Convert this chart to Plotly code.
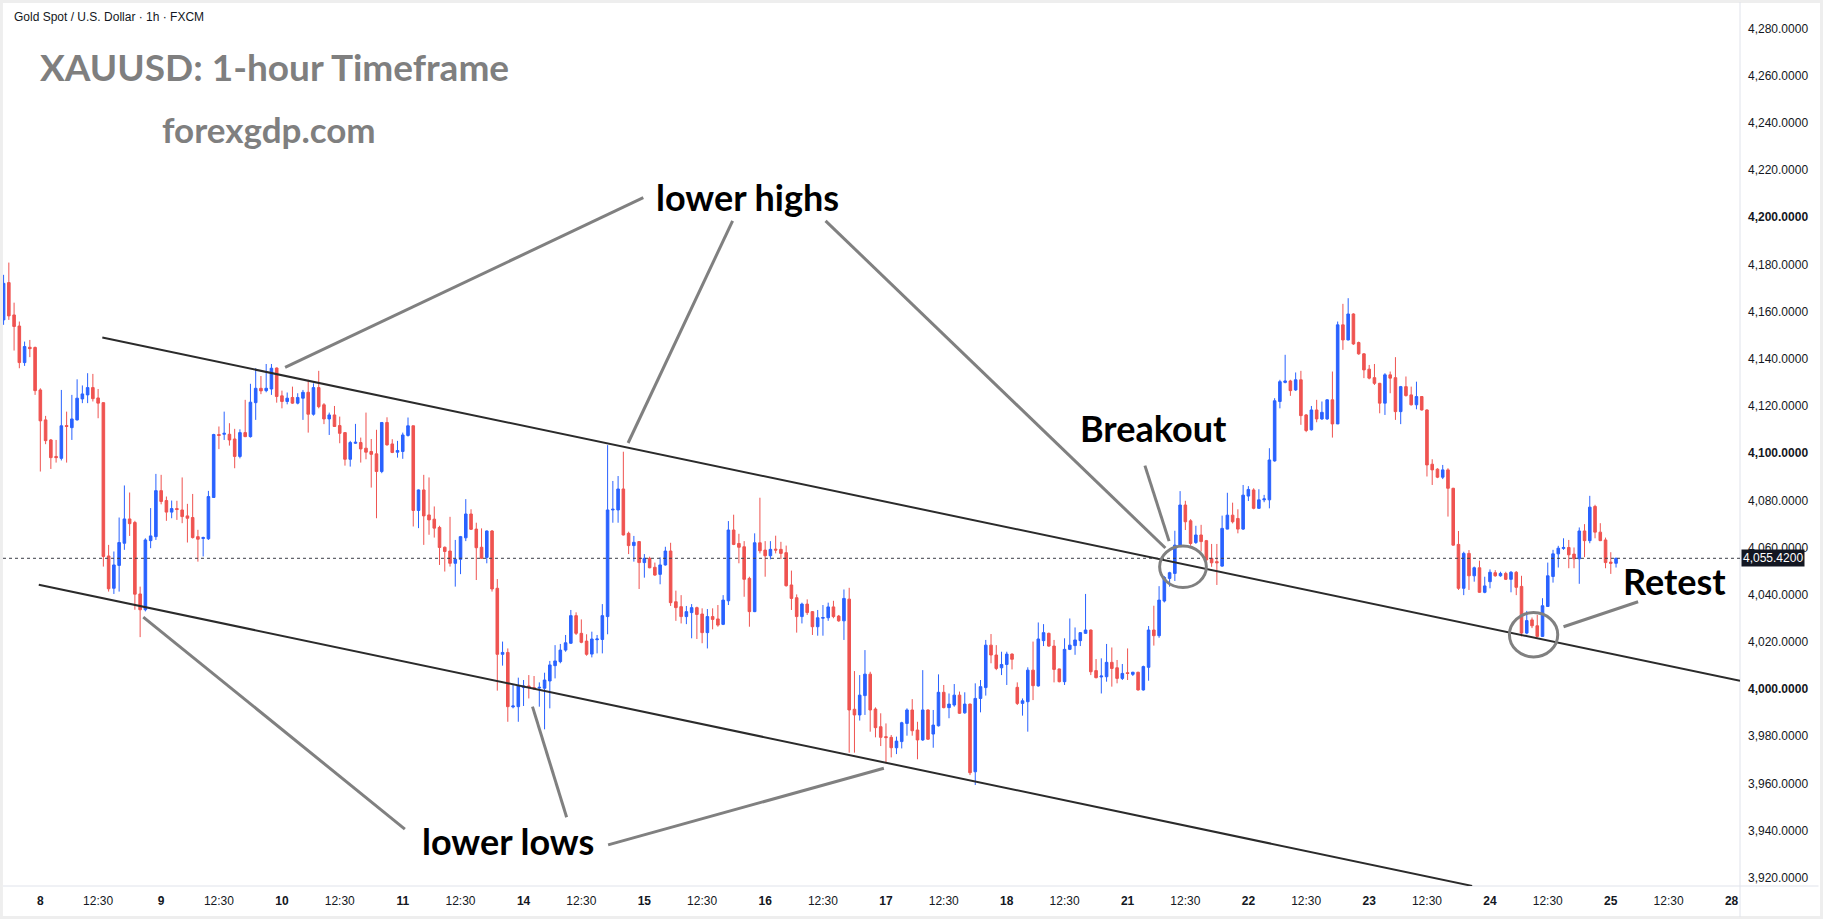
import plotly.graph_objects as go

# ---------------- DATA ----------------
opens = [4156.5,4172.3,4158.6,4153.9,4138.4,4144.9,4144.8,4126.8,4114.1,4105.6,4098.6,4097.8,4111.7,4110.8,4114.1,4123.0,4124.7,4127.8,4123.4,4121.4,
4056.4,4042.7,4052.4,4061.8,4072.1,4070.6,4040.3,4033.6,4062.9,4064.6,4084.1,4079.9,4075.0,4076.5,4075.9,4073.4,4072.7,4064.6,4063.8,4063.7,
4081.2,4107.9,4108.0,4108.0,4106.0,4098.6,4108.7,4107.0,4121.4,4127.5,4126.5,4127.2,4136.1,4124.3,4121.9,4123.6,4121.2,4123.3,4125.8,4116.5,
4127.8,4120.5,4114.5,4116.2,4111.7,4108.7,4097.4,4104.2,4104.5,4102.1,4100.7,4099.7,4092.2,4113.0,4103.9,4100.4,4100.7,4107.5,4111.6,4075.7,
4084.4,4073.8,4072.0,4068.5,4060.1,4058.5,4053.3,4055.0,4064.1,4074.2,4067.8,4060.1,4055.8,4067.0,4042.7,4014.7,4015.5,3992.4,3992.5,4000.6,
4001.3,4000.6,4000.4,4000.3,4003.4,4009.9,4011.6,4016.5,4019.4,4031.1,4023.6,4020.3,4014.8,4020.9,4021.0,4030.7,4075.9,4075.9,4084.8,4066.0,
4060.8,4062.5,4053.6,4055.4,4051.6,4048.6,4052.6,4058.5,4037.0,4034.9,4030.7,4032.4,4034.5,4031.8,4023.9,4030.7,4029.7,4027.4,4037.4,4067.4,
4061.7,4060.3,4046.9,4032.8,4062.0,4058.9,4056.5,4059.3,4059.2,4057.8,4044.1,4038.7,4030.7,4036.0,4032.8,4026.4,4030.0,4030.2,4034.8,4030.9,
4028.9,4038.1,3991.4,3989.0,3997.2,4006.3,3991.5,3984.0,3979.8,3979.5,3975.1,3977.7,3985.4,3991.1,3982.6,3978.4,3991.1,3980.9,3984.4,3998.6,
3992.1,3993.2,3997.4,3989.9,3993.6,3964.9,3996.0,4000.6,4018.6,4014.4,4009.0,4010.4,4014.8,4000.7,3993.9,3994.6,4008.0,4001.3,4020.5,4023.6,
4018.2,4008.5,4003.1,4016.8,4018.4,4020.5,4023.6,4025.0,4007.8,4005.1,4005.2,4011.3,4009.0,4004.5,4006.9,4006.2,4007.1,3999.6,4009.2,4025.0,
4022.6,4037.3,4046.9,4049.0,4060.7,4078.0,4071.3,4062.1,4065.3,4062.9,4055.4,4054.0,4052.1,4067.8,4073.7,4072.3,4067.8,4081.8,4084.4,4076.6,
4080.2,4080.2,4096.7,4121.9,4130.0,4130.6,4126.8,4131.1,4116.2,4109.9,4118.3,4114.5,4114.5,4122.6,4112.4,4154.4,4148.0,4159.0,4146.9,4142.1,
4135.6,4132.0,4129.6,4121.2,4133.2,4132.0,4117.6,4128.2,4124.7,4120.5,4124.0,4118.3,4095.3,4093.2,4089.8,4092.9,4085.1,4061.3,4042.7,4057.5,
4048.0,4051.4,4041.0,4045.5,4049.3,4048.0,4049.0,4046.5,4049.5,4043.5,4023.7,4029.3,4026.8,4022.3,4035.0,4047.7,4057.3,4059.6,4060.0,4057.2,
4055.2,4067.0,4062.9,4077.4,4066.5,4063.2,4053.8,4053.3]

highs = [4175.6,4180.8,4163.8,4155.8,4147.3,4148.0,4145.2,4127.5,4115.8,4106.0,4105.6,4126.8,4117.6,4124.7,4131.3,4128.7,4133.9,4133.6,4127.2,4121.6,
4061.1,4058.3,4072.7,4086.3,4083.3,4071.3,4043.4,4063.9,4076.7,4091.2,4090.8,4081.6,4079.9,4079.8,4089.7,4078.5,4082.7,4067.5,4064.6,4084.0,
4108.2,4111.3,4117.6,4112.7,4110.3,4110.1,4122.6,4129.4,4136.0,4132.7,4137.8,4137.8,4136.3,4126.5,4125.7,4128.2,4125.4,4126.8,4131.1,4129.6,
4134.9,4121.2,4117.2,4120.0,4115.5,4108.9,4105.2,4112.4,4106.6,4117.2,4106.0,4109.9,4113.1,4115.2,4105.9,4105.2,4108.7,4115.1,4111.7,4084.6,
4090.8,4089.7,4077.4,4069.2,4060.4,4073.0,4063.2,4064.9,4080.5,4076.2,4070.5,4068.1,4067.2,4067.4,4046.6,4020.1,4017.2,4001.7,4004.8,4003.8,
4005.9,4005.5,4002.8,4006.9,4011.9,4018.6,4019.1,4022.9,4033.5,4032.5,4029.5,4023.2,4024.3,4022.9,4036.0,4103.4,4088.2,4090.3,4100.6,4066.7,
4064.9,4062.7,4057.2,4056.1,4053.6,4055.8,4060.3,4062.0,4041.7,4039.8,4035.2,4036.0,4034.9,4034.2,4033.9,4034.2,4035.6,4039.8,4071.2,4073.9,
4065.8,4062.7,4047.6,4066.0,4081.1,4062.7,4062.7,4065.0,4062.4,4060.8,4050.2,4040.1,4036.6,4038.0,4033.0,4033.5,4035.6,4036.6,4037.4,4031.4,
4042.2,4042.9,4007.6,4005.9,4016.5,4007.3,3992.2,3989.7,3985.4,3980.5,3979.8,3986.1,3991.8,3995.7,3986.1,4008.0,3991.4,3991.1,4006.2,4001.7,
3998.1,4002.1,3998.9,3998.6,3993.8,4002.4,4003.8,4020.8,4023.3,4018.6,4015.8,4015.8,4015.1,4002.8,3996.0,4009.2,4020.1,4028.2,4027.5,4023.9,
4020.8,4008.6,4021.5,4029.9,4026.1,4024.1,4040.3,4025.2,4012.7,4013.0,4019.1,4017.6,4012.3,4010.6,4017.2,4007.3,4007.3,4009.9,4026.7,4035.3,
4043.6,4047.9,4049.7,4067.1,4083.9,4079.8,4072.0,4069.2,4069.6,4063.2,4061.5,4061.5,4073.5,4083.2,4079.0,4076.2,4086.5,4086.0,4085.1,4084.7,
4082.3,4102.1,4123.3,4131.1,4141.7,4131.1,4134.2,4134.9,4116.6,4120.0,4122.6,4121.9,4122.9,4134.6,4155.8,4163.3,4165.7,4159.3,4147.3,4142.4,
4137.4,4137.8,4129.8,4133.9,4134.6,4140.7,4128.5,4132.5,4128.2,4130.3,4124.2,4118.6,4097.4,4093.6,4095.0,4093.6,4085.3,4067.0,4058.2,4058.9,
4051.9,4054.4,4047.6,4050.7,4050.4,4049.7,4049.7,4050.0,4050.0,4048.0,4033.1,4030.3,4031.4,4038.5,4053.6,4059.0,4060.7,4063.9,4063.2,4060.0,
4068.5,4069.9,4081.9,4078.1,4070.3,4064.2,4058.0,4055.7]

lows = [4154.4,4156.5,4143.5,4136.0,4137.0,4140.7,4124.7,4092.2,4103.8,4093.3,4096.0,4096.9,4096.0,4105.6,4113.8,4121.2,4121.2,4121.9,4114.8,4051.9,
4041.3,4040.3,4041.3,4059.0,4064.9,4033.6,4022.0,4032.9,4059.7,4063.2,4078.3,4071.3,4072.4,4071.7,4070.3,4062.1,4063.8,4054.0,4056.2,4063.2,
4081.0,4101.7,4105.6,4103.2,4093.6,4097.8,4106.8,4106.6,4114.1,4125.0,4125.8,4124.7,4121.4,4119.0,4120.7,4120.9,4120.7,4114.1,4108.7,4115.9,
4119.0,4112.3,4107.7,4111.1,4104.2,4094.7,4094.3,4103.9,4096.0,4097.4,4085.4,4072.4,4091.5,4103.2,4100.0,4098.1,4097.6,4107.0,4068.9,4068.2,
4061.1,4065.4,4064.2,4052.6,4049.8,4051.9,4043.4,4048.7,4062.7,4067.4,4046.2,4055.2,4053.3,4041.3,3999.3,4009.9,3986.1,3991.8,3986.1,3992.8,
3996.0,3999.6,3992.5,3982.9,3991.8,4004.5,4010.9,4015.8,4019.1,4022.9,4019.4,4014.1,4013.4,4015.1,4015.1,4023.2,4070.5,4070.5,4065.1,4057.2,
4054.0,4042.4,4047.2,4051.2,4048.0,4044.4,4052.3,4035.2,4028.9,4027.8,4027.5,4021.5,4021.2,4019.4,4017.2,4025.3,4026.4,4027.1,4035.6,4061.0,
4053.3,4039.1,4026.4,4032.6,4057.5,4047.6,4055.0,4057.5,4055.1,4043.4,4033.5,4023.9,4027.8,4031.4,4022.9,4022.6,4022.6,4028.9,4030.0,4028.5,
4020.8,3973.0,3973.0,3986.6,3989.0,3981.9,3979.5,3975.8,3968.5,3971.0,3972.4,3974.8,3980.2,3980.2,3970.2,3978.0,3978.4,3975.1,3984.1,3991.8,
3987.6,3992.5,3989.4,3989.5,3963.5,3959.3,3990.1,3997.2,4010.9,4008.0,4005.9,4001.7,4008.3,3993.2,3988.7,3981.9,3995.3,4001.0,4018.2,4017.9,
4002.8,4002.8,4001.7,4016.5,4014.5,4018.2,4023.4,4005.9,4004.5,3998.1,4003.1,4001.0,4002.4,4003.8,4003.8,4005.5,3999.3,3999.3,4003.5,4018.4,
4021.7,4036.7,4043.4,4045.8,4060.3,4067.4,4060.7,4061.5,4058.3,4054.0,4051.8,4044.1,4051.8,4067.7,4070.2,4066.0,4067.4,4079.7,4076.2,4076.4,
4079.2,4076.6,4096.4,4119.0,4129.6,4124.3,4126.4,4112.0,4108.9,4109.6,4113.1,4114.1,4114.1,4106.6,4112.3,4143.8,4147.8,4145.9,4141.7,4131.8,
4131.3,4128.9,4116.9,4116.2,4125.4,4114.1,4112.3,4124.0,4120.2,4118.6,4118.1,4090.1,4086.5,4089.4,4089.0,4073.1,4060.8,4042.0,4039.8,4042.0,
4045.5,4040.8,4040.6,4042.7,4047.6,4047.6,4046.2,4041.0,4039.8,4022.3,4023.2,4025.8,4021.8,4022.1,4034.8,4045.1,4051.5,4059.0,4051.2,4051.2,
4044.6,4055.9,4061.8,4063.9,4062.7,4051.2,4048.8,4051.5]

closes = [4172.0,4158.2,4153.7,4138.4,4145.2,4144.3,4126.5,4113.7,4105.3,4098.1,4098.1,4111.6,4111.3,4114.5,4123.3,4125.1,4127.8,4123.1,4121.2,4056.2,
4042.5,4052.6,4062.1,4072.1,4070.1,4040.2,4033.6,4063.2,4064.9,4084.1,4079.5,4075.0,4076.5,4076.1,4073.1,4072.4,4064.2,4063.5,4064.2,4081.6,
4107.9,4107.5,4108.4,4105.6,4098.6,4108.7,4107.0,4121.6,4127.5,4126.4,4127.5,4136.0,4124.0,4121.9,4123.3,4121.2,4123.6,4125.8,4116.5,4127.8,
4119.7,4114.5,4116.2,4111.3,4108.4,4097.4,4104.5,4104.6,4101.8,4100.4,4099.5,4092.2,4113.0,4103.5,4100.3,4101.1,4107.7,4111.6,4075.7,4084.4,
4073.4,4071.7,4068.2,4060.0,4058.3,4053.3,4055.0,4064.6,4074.2,4067.7,4059.9,4055.4,4067.0,4042.4,4014.7,4015.5,3992.5,3992.8,4001.4,4001.3,
4000.6,4000.0,4000.7,4003.8,4010.2,4011.9,4016.5,4019.6,4031.1,4023.6,4019.8,4014.7,4021.2,4021.2,4031.1,4075.9,4076.2,4084.8,4065.3,4060.8,
4062.2,4053.6,4055.4,4051.4,4048.3,4052.6,4058.5,4036.6,4034.5,4030.7,4032.8,4034.5,4031.6,4023.9,4030.7,4029.5,4027.1,4037.7,4067.4,4061.3,
4060.1,4046.5,4032.8,4062.0,4058.6,4056.5,4059.2,4058.9,4057.5,4043.8,4038.4,4030.7,4036.0,4032.4,4026.4,4030.2,4030.3,4034.8,4030.7,4028.9,
4038.4,3991.1,3989.0,3997.4,4006.3,3991.1,3983.6,3979.5,3979.4,3975.1,3977.9,3985.7,3991.1,3982.3,3978.4,3991.1,3978.7,3984.7,3998.6,3992.1,
3993.6,3997.4,3989.7,3993.6,3964.5,3996.0,4001.0,4018.6,4014.4,4008.7,4010.4,4014.8,4012.6,3993.9,3995.0,4008.0,4001.4,4021.2,4023.9,4018.2,
4008.3,4003.1,4016.8,4018.6,4020.8,4023.9,4025.0,4007.3,4004.8,4005.5,4011.3,4008.7,4004.5,4006.6,4006.6,4007.1,3999.6,4009.5,4025.0,4022.6,
4037.7,4047.3,4049.3,4061.0,4078.0,4070.9,4061.7,4065.3,4062.5,4054.7,4053.5,4053.5,4068.1,4073.7,4070.9,4067.8,4082.2,4084.6,4076.6,4080.2,
4080.6,4097.1,4122.2,4130.3,4130.6,4126.5,4131.1,4115.9,4109.6,4118.3,4114.5,4117.3,4122.6,4112.4,4154.4,4148.0,4159.0,4146.3,4142.1,4135.3,
4131.8,4129.6,4121.2,4133.2,4131.8,4117.6,4128.2,4124.4,4120.5,4124.0,4118.3,4095.0,4092.9,4089.8,4092.9,4085.1,4061.0,4042.7,4057.5,4048.0,
4051.4,4041.0,4043.7,4049.5,4048.0,4049.0,4046.5,4049.5,4043.1,4023.7,4029.0,4026.8,4022.3,4035.3,4048.0,4057.3,4059.7,4060.0,4056.9,4055.2,
4067.0,4062.9,4077.1,4066.5,4062.9,4053.6,4053.3,4055.42]

day_labels = ["8", "9", "10", "11", "14", "15", "16", "17", "18", "21", "22", "23", "24", "25", "28"]
intraday_label = "12:30"
price_ticks = list(range(3920, 4281, 20))
last_price = 4055.42

BARS_PER_DAY = 23
FIRST_DAY_BAR = 7
HALF_DAY_OFFSET = 11

# ---------------- FIGURE ----------------
UP = "#2962FF"
DOWN = "#EF5350"
TXT = "#131722"
FONT = "Liberation Sans"

x = list(range(len(opens)))

fig = go.Figure()
fig.add_trace(go.Candlestick(
    x=x, open=opens, high=highs, low=lows, close=closes,
    increasing=dict(line=dict(color=UP, width=1), fillcolor=UP),
    decreasing=dict(line=dict(color=DOWN, width=1), fillcolor=DOWN),
    whiskerwidth=0, showlegend=False, hoverinfo="skip",
))

xt_vals, xt_text = [], []
for k, d in enumerate(day_labels):
    pos = FIRST_DAY_BAR + k * BARS_PER_DAY
    xt_vals.append(pos)
    xt_text.append(f"<b>{d}</b>")
    if k < len(day_labels) - 1:
        xt_vals.append(pos + HALF_DAY_OFFSET)
        xt_text.append(intraday_label)

yt_text = [(f"<b>{v:,.4f}</b>" if v % 100 == 0 else f"{v:,.4f}") for v in price_ticks]

fig.update_layout(
    width=1823, height=919, autosize=False,
    margin=dict(l=3, r=83, t=3, b=33),
    paper_bgcolor="white", plot_bgcolor="white",
    showlegend=False,
    xaxis=dict(
        range=[-0.11, 330.6], tickmode="array", tickvals=xt_vals, ticktext=xt_text,
        showgrid=False, zeroline=False, showline=False, ticks="",
        rangeslider=dict(visible=False), ticklabelstandoff=6,
        tickfont=dict(family=FONT, size=12, color=TXT), fixedrange=True,
    ),
    yaxis=dict(
        side="right", range=[3916.47, 4290.86], tickmode="array",
        tickvals=price_ticks, ticktext=yt_text,
        showgrid=False, zeroline=False, showline=False, ticks="",
        ticklabelstandoff=7,
        tickfont=dict(family=FONT, size=12, color=TXT), fixedrange=True,
    ),
)

shapes = []
# frame and pane separators
shapes.append(dict(type="rect", xref="paper", yref="paper", x0=-0.0009, x1=1.0469, y0=-0.0357, y1=1.0017,
                   line=dict(color="#EEEEEE", width=3), layer="above"))
shapes.append(dict(type="line", xref="paper", yref="paper", x0=1.0, x1=1.0, y0=-0.035, y1=1.001,
                   line=dict(color="#E0E3EB", width=1)))
shapes.append(dict(type="line", xref="paper", yref="paper", x0=0, x1=1.0452, y0=0, y1=0,
                   line=dict(color="#E0E3EB", width=1)))
# last price dotted line
shapes.append(dict(type="line", xref="paper", yref="y", x0=0, x1=1, y0=last_price, y1=last_price,
                   line=dict(color="#3a3d45", width=1, dash="dot")))
# channel lines
CH = dict(color="#2B2B2B", width=2)
shapes.append(dict(type="line", xref="x", yref="y", x0=18.8, y0=4149.0, x1=330.6, y1=4003.5, line=CH))
shapes.append(dict(type="line", xref="x", yref="y", x0=6.7, y0=4044.2, x1=279.6, y1=3916.5, line=CH))
# callout lines
GR = dict(color="#808080", width=3)
for (x0, y0, x1, y1) in [
    (121.8, 4208.3, 53.6, 4136.4),
    (138.8, 4198.5, 118.9, 4104.3),
    (156.5, 4198.5, 221.2, 4059.8),
    (217.3, 4094.7, 221.9, 4062.7),
    (76.4, 3940.6, 26.6, 4030.5),
    (107.2, 3945.6, 100.7, 3992.5),
    (115.1, 3933.9, 167.6, 3966.4),
    (297.0, 4026.4, 311.2, 4037.0),
]:
    shapes.append(dict(type="line", xref="x", yref="y", x0=x0, y0=y0, x1=x1, y1=y1, line=GR))
# circles
shapes.append(dict(type="circle", xref="x", yref="y", x0=220.1, x1=229.0, y0=4043.0, y1=4060.6, line=GR))
shapes.append(dict(type="circle", xref="x", yref="y", x0=286.7, x1=295.9, y0=4013.6, y1=4032.4, line=GR))
fig.update_layout(shapes=shapes)

BIG = "Lato"
ann = []
ann.append(dict(xref="paper", yref="paper", x=0.00495, y=0.9837, xanchor="left", yanchor="middle",
                text="Gold Spot / U.S. Dollar · 1h · FXCM", showarrow=False,
                font=dict(family=FONT, size=12, color=TXT)))
ann.append(dict(xref="x", yref="y", x=51.6, y=4264.0, text="XAUUSD: 1-hour Timeframe", showarrow=False,
                font=dict(family=BIG, size=37, color="#7F7F7F", weight="bold")))
ann.append(dict(xref="x", yref="y", x=50.5, y=4237.4, text="forexgdp.com", showarrow=False,
                font=dict(family=BIG, size=35, color="#7F7F7F", weight="bold")))
for (tx, ty, t) in [(141.7, 4208.6, "lower highs"), (218.9, 4110.5, "Breakout"),
                    (96.1, 3935.7, "lower lows"), (318.2, 4045.8, "Retest")]:
    ann.append(dict(xref="x", yref="y", x=tx, y=ty, text=t, showarrow=False,
                    font=dict(family=BIG, size=36, color="#000000", weight="bold")))
ann.append(dict(xref="paper", yref="y", x=1.0, y=last_price, xanchor="left", yanchor="middle", xshift=1,
                text=f"{last_price:,.4f}", showarrow=False, bgcolor=TXT, borderpad=1,
                font=dict(family=FONT, size=12, color="white")))
fig.update_layout(annotations=ann)

fig.write_html("out.html")
